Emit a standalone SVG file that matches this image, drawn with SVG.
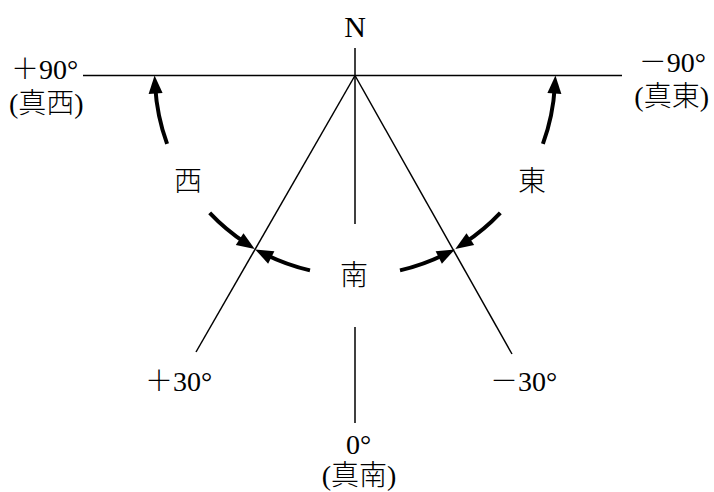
<svg xmlns="http://www.w3.org/2000/svg" width="714" height="492" viewBox="0 0 714 492">
<style>
.t{font-family:"Liberation Serif","Times New Roman",serif;font-size:28px;fill:#000}
.j{font-family:"Noto Sans CJK JP","Noto Sans CJK SC",sans-serif;font-weight:300}
.ln{stroke:#000;stroke-width:1.5;fill:none}
.arc{stroke:#000;stroke-width:4;fill:none;marker-end:url(#ah)}
</style>
<defs>
<marker id="ah" markerUnits="userSpaceOnUse" markerWidth="18" markerHeight="14" refX="7" refY="7" orient="auto" overflow="visible">
<path d="M0,0 L18,7 L0,14 z" fill="#000"/>
</marker>
</defs>
<rect width="714" height="492" fill="#fff"/>
<g id="connectors">
<line class="ln" x1="83" y1="75.5" x2="622" y2="75.5"/>
<line class="ln" x1="355" y1="48" x2="355" y2="224"/>
<line class="ln" x1="355" y1="327" x2="355" y2="423"/>
<line class="ln" x1="355" y1="75.5" x2="196" y2="352"/>
<line class="ln" x1="355" y1="75.5" x2="512" y2="354"/>
<path class="arc" d="M167.1,143.9 A200,200 0 0 1 155.2,86.5"/>
<path class="arc" d="M209.7,212.9 A200,200 0 0 0 245.5,242.9"/>
<path class="arc" d="M310,270.4 A200,200 0 0 1 265,254.3"/>
<path class="arc" d="M542.9,143.9 A200,200 0 0 0 554.8,86.5"/>
<path class="arc" d="M500.3,212.9 A200,200 0 0 1 464.5,242.9"/>
<path class="arc" d="M400,270.4 A200,200 0 0 0 445,254.3"/>
</g>
<g id="label-N"><text class="t" x="355" y="37" text-anchor="middle" style="font-size:30px">N</text></g>
<g id="label-plus90"><text class="t" x="11" y="79"><tspan class="j">＋</tspan>90°</text><text class="t" x="9" y="113">(<tspan class="j">真西</tspan>)</text></g>
<g id="label-minus90"><text class="t" x="706" y="72" text-anchor="end"><tspan class="j">－</tspan>90°</text><text class="t" x="709" y="106" text-anchor="end">(<tspan class="j">真東</tspan>)</text></g>
<g id="label-west"><text class="t j" x="188" y="191" text-anchor="middle">西</text></g>
<g id="label-east"><text class="t j" x="532" y="191" text-anchor="middle">東</text></g>
<g id="label-south"><text class="t j" x="354" y="285" text-anchor="middle">南</text></g>
<g id="label-plus30"><text class="t" x="145" y="391"><tspan class="j">＋</tspan>30°</text></g>
<g id="label-minus30"><text class="t" x="490" y="391"><tspan class="j">－</tspan>30°</text></g>
<g id="label-zero"><text class="t" x="346" y="454">0°</text><text class="t" x="359" y="485" text-anchor="middle">(<tspan class="j">真南</tspan>)</text></g>
</svg>
